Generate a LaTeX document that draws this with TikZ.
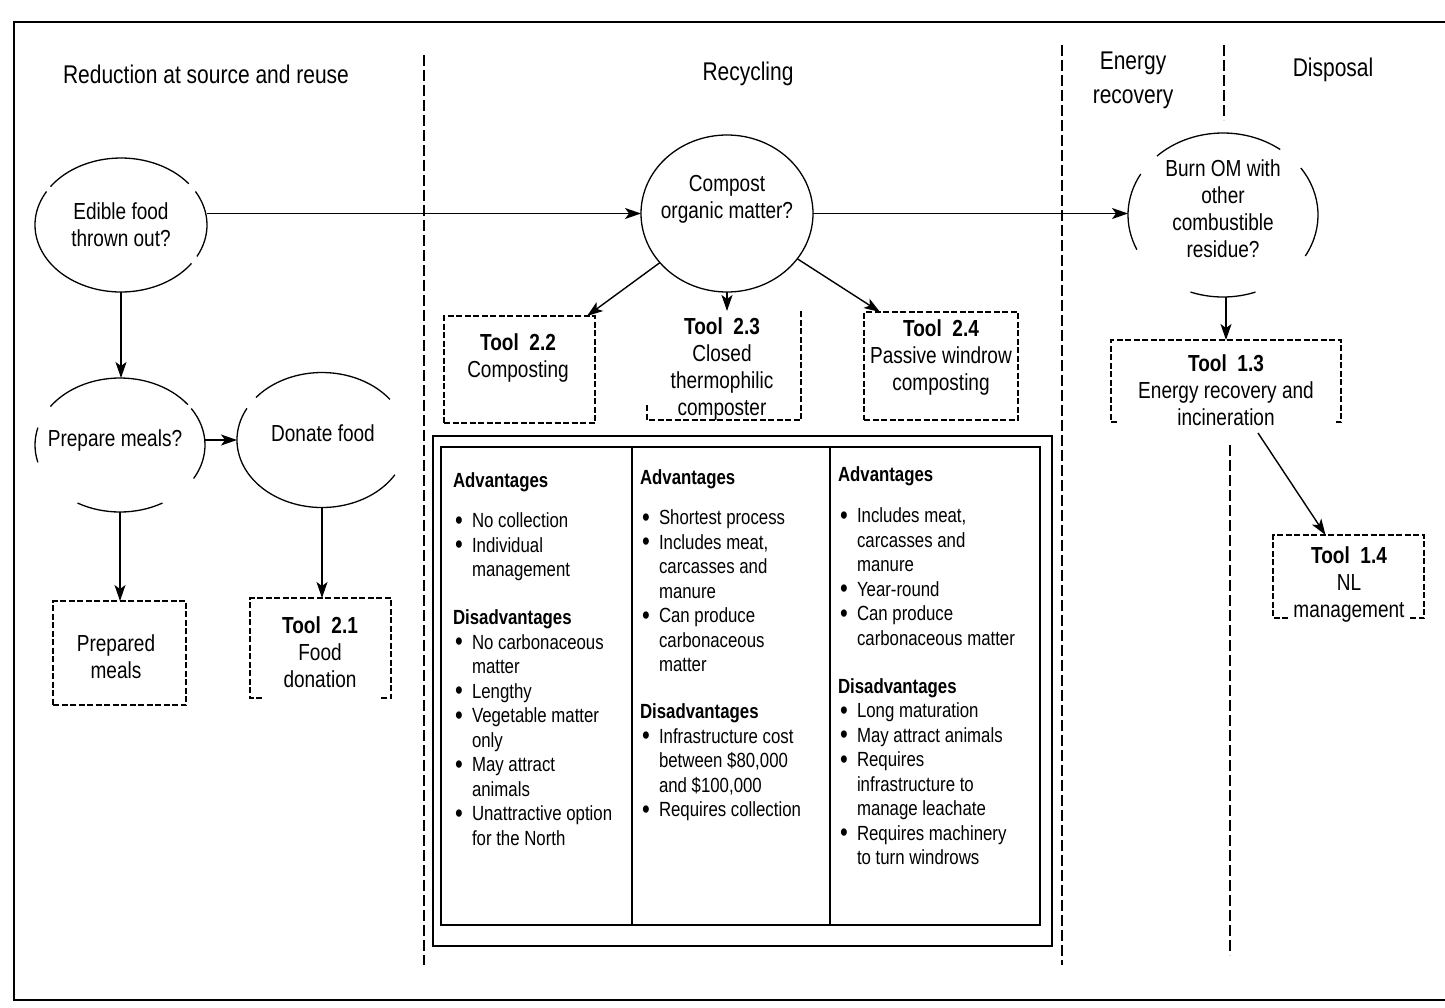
\documentclass[tikz,border=0pt]{standalone}
\usepackage{fontspec}
\setmainfont{Liberation Sans}[FakeStretch=0.82]
\usetikzlibrary{arrows.meta,shapes.geometric,calc}
\newcommand\ovalarc[5]{%
  \draw[ovl] ($(#1)+({#4*cos(-(#2))},{#5*sin(-(#2))})$) arc[start angle={-(#2)}, end angle={-(#3)}, x radius=#4, y radius=#5];}
\newcommand\bul{\hspace*{2pt}\makebox[17pt][l]{\raisebox{-1.2pt}{\fontsize{27}{0}\selectfont\textbullet}}}
\newcommand\ind{\hspace*{19pt}}
\begin{document}
\begin{tikzpicture}[x=1pt,y=-1pt,
  every node/.style={inner sep=0pt,outer sep=0pt},
  ttl/.style={font=\fontsize{25.6}{34}\selectfont, align=center},
  etxt/.style={font=\fontsize{23.2}{27}\selectfont, align=center},
  body/.style={font=\fontsize{20.5}{24.5}\selectfont, align=left, anchor=north west},
  oval/.style={ellipse, draw=none},
  ovl/.style={line width=1.3pt},
  dbox/.style={draw, line width=1.3pt, dash pattern=on 6pt off 2.5pt},
  arr/.style={line width=1.4pt, -{Stealth[length=16pt,width=11pt,inset=4pt]}},
  divider/.style={line width=1.8pt, dash pattern=on 11pt off 4pt},
  frame/.style={line width=2pt},
  tline/.style={line width=1.8pt}]
\useasboundingbox (0,0) rectangle (1445,1007);

% outer frame (right side runs off the page)
\draw[frame] (1445,22) -- (14,22) -- (14,1000) -- (1445,1000);

% section dividers
\draw[divider] (424,55) -- (424,965);
\draw[divider] (1062,45) -- (1062,965);
\draw[divider] (1224,45) -- (1224,120);
\draw[divider] (1230,445) -- (1230,955);

% headings
\node[ttl, anchor=base] (h1) at (206,83) {Reduction at source and reuse};
\node[ttl, anchor=base] (h2) at (748,80) {Recycling};
\node[ttl] (h3) at (1133,80) {Energy\\recovery};
\node[ttl, anchor=base] (h4) at (1333,76) {Disposal};

% decision ovals
\node[oval, minimum width=172, minimum height=134] (edible) at (121,225) {};
\node[etxt] (edible-t) at ($(edible)+(0,0)$) {Edible food\\thrown out?};
\ovalarc{edible}{38}{145}{86}{67}
\ovalarc{edible}{150}{325}{86}{67}
\ovalarc{edible}{-28}{30}{86}{67}

\node[oval, draw, line width=1.3pt, minimum width=172, minimum height=157] (compost) at (727,213.5) {};
\node[etxt] (compost-t) at ($(compost)+(0,-14)$) {Compost\\organic matter?};

\node[oval, minimum width=190, minimum height=164] (burn) at (1223,215) {};
\node[etxt] (burn-t) at ($(burn)+(0,-6)$) {Burn OM with\\other\\combustible\\residue?};
\ovalarc{burn}{53}{134}{95}{82}
\ovalarc{burn}{150}{205}{95}{82}
\ovalarc{burn}{250}{290}{95}{82}
\ovalarc{burn}{-30}{35}{95}{82}

\node[oval, minimum width=170, minimum height=134] (prep) at (120,445) {};
\node[etxt, anchor=base] (prep-t) at ($(prep)+(-5,1.5)$) {Prepare meals?};
\ovalarc{prep}{37}{145}{85}{67}
\ovalarc{prep}{165}{195}{85}{67}
\ovalarc{prep}{240}{300}{85}{67}
\ovalarc{prep}{-30}{33}{85}{67}

\node[oval, minimum width=170, minimum height=135] (donate) at (322,440) {};
\node[etxt, anchor=base] (donate-t) at ($(donate)+(1,1.5)$) {Donate food};
\ovalarc{donate}{37}{141}{85}{67.5}
\ovalarc{donate}{152}{329}{85}{67.5}

% tool boxes
\node[dbox, minimum width=133, minimum height=104] (pm) at (119.5,653) {};
\node[etxt] (pm-t) at ($(pm)+(-3.5,4)$) {Prepared\\meals};

\node[minimum width=141, minimum height=100] (t21) at (320.5,648) {};
\draw[dbox] ($(t21.south west)+(12,0)$) -- (t21.south west) -- (t21.north west) -- (t21.north east) -- (t21.south east) -- ($(t21.south east)+(-12,0)$);
\node[etxt] (t21-t) at ($(t21)+(-0.5,4)$) {\textbf{Tool\ \ 2.1}\\Food\\donation};

\node[dbox, minimum width=151, minimum height=107] (t22) at (519.5,369.5) {};
\node[etxt] (t22-t) at ($(t22)+(-1.5,-11.5)$) {\textbf{Tool\ \ 2.2}\\Composting};

\node[minimum width=154, minimum height=109] (t23) at (724,365.5) {};
\draw[dbox] ($(t23.south west)+(0,-15)$) -- (t23.south west) -- (t23.south east) -- (t23.north east);
\node[etxt] (t23-t) at ($(t23)+(-2,3)$) {\textbf{Tool\ \ 2.3}\\Closed\\thermophilic\\composter};

\node[dbox, minimum width=154, minimum height=108] (t24) at (941,366) {};
\node[etxt] (t24-t) at ($(t24)+(0,-9)$) {\textbf{Tool\ \ 2.4}\\Passive windrow\\composting};

\node[minimum width=230, minimum height=82] (t13) at (1226,381) {};
\draw[dbox] ($(t13.south west)+(6,0)$) -- (t13.south west) -- (t13.north west) -- (t13.north east) -- (t13.south east) -- ($(t13.south east)+(-6,0)$);
\node[etxt] (t13-t) at ($(t13)+(0,9)$) {\textbf{Tool\ \ 1.3}\\Energy recovery and\\incineration};

\node[minimum width=151, minimum height=83] (t14) at (1348.5,576.5) {};
\draw[dbox] ($(t14.south west)+(15,0)$) -- (t14.south west) -- (t14.north west) -- (t14.north east) -- (t14.south east) -- ($(t14.south east)+(-15,0)$);
\node[etxt] (t14-t) at ($(t14)+(0.5,8)$) {\textbf{Tool\ \ 1.4}\\NL\\management};

% connectors
\draw[arr] (edible.south) -- (edible.south |- prep.north);
\draw[arr] (donate.west -| prep.east) -- (donate.west);
\draw[arr] (prep.south) -- (prep.south |- pm.north);
\draw[arr] (donate.south) -- (donate.south |- t21.north);
\draw[arr] (compost.west -| edible.east) -- (compost.west);
\draw[arr] (compost.east) -- (compost.east -| burn.west);
\draw[arr] (compost) -- ($(t22.north east)+(-8,0)$);
\draw[arr] (compost.south) -- (compost.south |- t23.north);
\draw[arr] (compost) -- ($(t24.north west)+(16,0)$);
\draw[arr] (t13.north |- burn.south) -- (t13.north);
\draw[arr] ($(t13.south)+(32,11)$) -- ($(t14.north)+(-23,0)$);

% comparison table
\node[draw, tline, minimum width=619, minimum height=510] (tabout) at (742.5,691) {};
\node[draw, tline, minimum width=599, minimum height=478] (tabin) at (740.5,686) {};
\draw[tline] ($(tabin.north west)+(191,0)$) -- ($(tabin.south west)+(191,0)$);
\draw[tline] ($(tabin.north west)+(389,0)$) -- ($(tabin.south west)+(389,0)$);

\node[body] (col1) at (453,473) {\textbf{Advantages}\\[15.5pt]
\bul No collection\\
\bul Individual\\
\ind management\\[23.5pt]
\textbf{Disadvantages}\\
\bul No carbonaceous\\
\ind matter\\
\bul Lengthy\\
\bul Vegetable matter\\
\ind only\\
\bul May attract\\
\ind animals\\
\bul Unattractive option\\
\ind for the North};

\node[body] (col2) at (640,470) {\textbf{Advantages}\\[15.5pt]
\bul Shortest process\\
\bul Includes meat,\\
\ind carcasses and\\
\ind manure\\
\bul Can produce\\
\ind carbonaceous\\
\ind matter\\[22.5pt]
\textbf{Disadvantages}\\
\bul Infrastructure cost\\
\ind between \$80,000\\
\ind and \$100,000\\
\bul Requires collection};

\node[body] (col3) at (838,467) {\textbf{Advantages}\\[16.5pt]
\bul Includes meat,\\
\ind carcasses and\\
\ind manure\\
\bul Year-round\\
\bul Can produce\\
\ind carbonaceous matter\\[23.5pt]
\textbf{Disadvantages}\\
\bul Long maturation\\
\bul May attract animals\\
\bul Requires\\
\ind infrastructure to\\
\ind manage leachate\\
\bul Requires machinery\\
\ind to turn windrows};
\end{tikzpicture}
\end{document}
